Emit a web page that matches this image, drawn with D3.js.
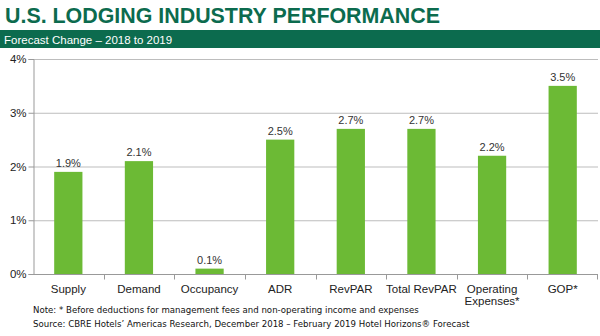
<!DOCTYPE html>
<html>
<head>
<meta charset="utf-8">
<script src="https://cdn.jsdelivr.net/npm/d3@7"></script>
<style>
  body { margin: 0; background: #fff; }
  svg { display: block; }
</style>
</head>
<body>
<svg id="chart" width="600" height="336"></svg>
<script>
var categories = ["Supply", "Demand", "Occupancy", "ADR", "RevPAR", "Total RevPAR", "Operating|Expenses*", "GOP*"];
var values     = [1.9, 2.1, 0.1, 2.5, 2.7, 2.7, 2.2, 3.5];
var yTicks     = [0, 1, 2, 3, 4];

var green = "#0c6b4e",
    barColor = "#6cba35";

var svg = d3.select("#chart");

// title + banner
svg.append("text")
    .attr("x", 5).attr("y", 23)
    .attr("font-family", "Liberation Sans, Arial, sans-serif")
    .attr("font-weight", "bold")
    .attr("font-size", 21.4)
    .attr("fill", green)
    .text("U.S. LODGING INDUSTRY PERFORMANCE");

svg.append("rect")
    .attr("x", 0).attr("y", 30).attr("width", 600).attr("height", 18)
    .attr("fill", green);

svg.append("text")
    .attr("x", 4).attr("y", 43.5)
    .attr("font-family", "Liberation Sans, Arial, sans-serif")
    .attr("font-size", 11.5)
    .attr("fill", "#fff")
    .text("Forecast Change \u2013 2018 to 2019");

var x = d3.scaleBand().domain(categories).range([33, 598]).paddingInner(0.6).paddingOuter(0.3);
var xb = d3.scaleBand().domain(categories).range([33, 598]);
var y = d3.scaleLinear().domain([0, 4]).range([274, 59]);

// gridlines
svg.selectAll("line.grid")
    .data(yTicks.filter(function(d){ return d > 0 }))
    .enter().append("line")
    .attr("class", "grid")
    .attr("x1", 33).attr("x2", 598)
    .attr("y1", function(d){ return y(d) + 0.5 })
    .attr("y2", function(d){ return y(d) + 0.5 })
    .attr("stroke", "#bdbdbd")
    .attr("stroke-width", 1);

// bars
svg.selectAll("rect.bar")
    .data(values).enter()
    .append("rect")
    .attr("class", "bar")
    .attr("x", function(d, i){ return x(categories[i]) })
    .attr("width", x.bandwidth())
    .attr("y", function(d){ return y(d) })
    .attr("height", function(d){ return y(0) - y(d) })
    .attr("fill", barColor);

// value labels
svg.selectAll("text.val")
    .data(values).enter()
    .append("text")
    .attr("class", "val")
    .attr("x", function(d, i){ return x(categories[i]) + x.bandwidth() / 2 })
    .attr("y", function(d){ return y(d) - 5 })
    .attr("text-anchor", "middle")
    .attr("font-family", "Liberation Sans, Arial, sans-serif")
    .attr("font-size", 11)
    .attr("fill", "#333")
    .text(function(d){ return d.toFixed(1) + "%" });

// y axis
var yAxis = svg.append("g")
    .attr("transform", "translate(33.5,0)")
    .call(d3.axisLeft(y).tickValues(yTicks).tickSize(5).tickFormat(function(d){ return d + "%" }));
yAxis.select(".domain").attr("stroke", "#999");
yAxis.selectAll(".tick line").attr("stroke", "#999");
yAxis.selectAll("text")
    .attr("font-family", "Liberation Sans, Arial, sans-serif")
    .attr("font-size", 11.5)
    .attr("fill", "#222")
    .attr("x", -7);

// x axis
var xAxis = svg.append("g")
    .attr("transform", "translate(0," + (y(0) + 0.5) + ")");
xAxis.append("line")
    .attr("x1", 29).attr("x2", 598)
    .attr("stroke", "#999");
xAxis.selectAll("line.tk")
    .data(categories.slice(1)).enter()
    .append("line")
    .attr("class", "tk")
    .attr("x1", function(d){ return Math.round(xb(d)) + 0.5 })
    .attr("x2", function(d){ return Math.round(xb(d)) + 0.5 })
    .attr("y1", 0).attr("y2", 5)
    .attr("stroke", "#999");
xAxis.append("line")
    .attr("x1", 597.5).attr("x2", 597.5).attr("y1", 0).attr("y2", 5)
    .attr("stroke", "#999");

xAxis.selectAll("text.cat")
    .data(categories).enter()
    .append("text")
    .attr("class", "cat")
    .attr("x", function(d){ return xb(d) + xb.bandwidth() / 2 })
    .attr("y", 18)
    .attr("text-anchor", "middle")
    .attr("font-family", "Liberation Sans, Arial, sans-serif")
    .attr("font-size", 11.5)
    .attr("fill", "#222")
    .each(function(d){
      var t = d3.select(this);
      d.split("|").forEach(function(line, i){
        t.append("tspan")
          .attr("x", xb(d) + xb.bandwidth() / 2)
          .attr("dy", i == 0 ? 0 : 12.5)
          .text(line);
      });
    });

// footnotes
var notes = ["Note: * Before deductions for management fees and non-operating income and expenses",
             "Source: CBRE Hotels\u2019 Americas Research, December 2018 \u2013 February 2019 Hotel Horizons\u00ae Forecast"];
svg.selectAll("text.note")
    .data(notes).enter()
    .append("text")
    .attr("class", "note")
    .attr("x", 33)
    .attr("y", function(d, i){ return 313 + i * 14 })
    .attr("font-family", "DejaVu Sans, sans-serif")
    .attr("font-size", 8.6)
    .attr("fill", "#111")
    .text(function(d){ return d });
</script>
</body>
</html>
